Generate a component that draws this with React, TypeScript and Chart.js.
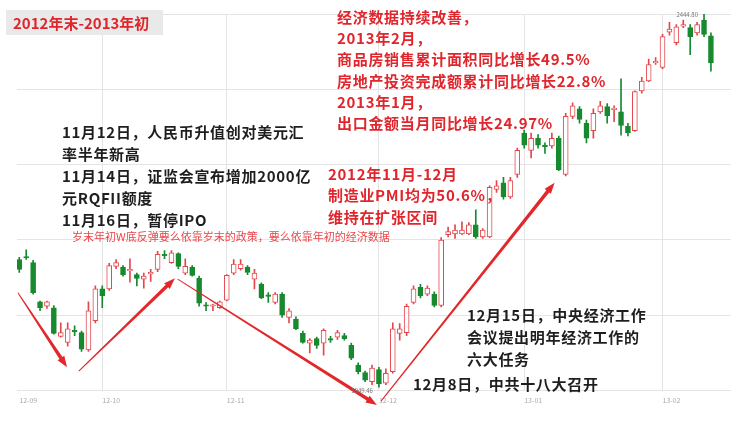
import React, { useEffect, useRef } from "react";
import { Chart, registerables } from "chart.js";

Chart.register(...registerables);

// ---- Data (Shanghai Composite, Sep 2012 – Feb 2013, daily OHLC) ----
const opens = [
  2119, 2122, 2115, 2063, 2057, 2055, 2017, 2009, 2024, 2022,
  1999, 2038, 2080, 2080, 2110, 2109, 2104, 2099, 2093, 2100,
  2106, 2125, 2115, 2127, 2101, 2109, 2094, 2058, 2057, 2055,
  2065, 2101, 2107, 2109, 2093, 2086, 2071, 2062, 2073, 2042,
  2040, 2021, 2008, 2014, 2008, 2014, 2016, 2018, 2005, 1979,
  1969, 1957, 1973, 1955, 1970, 2021, 2022, 2062, 2082, 2073,
  2073, 2058, 2152, 2153, 2153, 2153, 2165, 2149, 2149, 2212,
  2221, 2202, 2232, 2287, 2264, 2280, 2270, 2270, 2280, 2232,
  2309, 2319, 2300, 2290, 2315, 2322, 2318, 2315, 2296, 2290,
  2343, 2356, 2380, 2374, 2421, 2407, 2429, 2427, 2420, 2437, 2416,
];
const highs = [
  2122, 2132, 2118, 2064, 2064, 2058, 2035, 2035, 2031, 2024,
  2063, 2084, 2084, 2114, 2119, 2111, 2120, 2101, 2101, 2106,
  2130, 2131, 2131, 2128, 2120, 2111, 2097, 2062, 2060, 2064,
  2099, 2119, 2119, 2111, 2106, 2088, 2075, 2075, 2075, 2054,
  2043, 2024, 2014, 2016, 2027, 2017, 2025, 2021, 2008, 1982,
  1971, 1979, 1976, 1974, 2035, 2034, 2060, 2084, 2086, 2084,
  2076, 2148, 2162, 2165, 2169, 2168, 2185, 2160, 2217, 2224,
  2228, 2228, 2267, 2291, 2287, 2285, 2274, 2287, 2283, 2313,
  2327, 2322, 2304, 2319, 2329, 2326, 2323, 2359, 2300, 2343,
  2361, 2385, 2387, 2418, 2434, 2431, 2437, 2431, 2434, 2444.8, 2420,
];
const lows = [
  2102, 2119, 2073, 2051, 2054, 2020, 2016, 2004, 2018, 1997,
  1997, 2035, 2055, 2078, 2107, 2097, 2089, 2084, 2081, 2090,
  2103, 2120, 2114, 2107, 2099, 2097, 2057, 2051, 2051, 2054,
  2064, 2099, 2105, 2099, 2080, 2067, 2062, 2060, 2042, 2035,
  2026, 2008, 1995, 2001, 1992, 2009, 2013, 2012, 1986, 1967,
  1957, 1953, 1949.46, 1953, 1968, 2012, 2018, 2060, 2068, 2071,
  2056, 2056, 2149, 2147, 2152, 2152, 2147, 2147, 2148, 2208,
  2199, 2200, 2228, 2267, 2254, 2267, 2260, 2267, 2237, 2230,
  2306, 2300, 2274, 2280, 2313, 2300, 2302, 2284, 2283, 2289,
  2340, 2355, 2378, 2372, 2417, 2404, 2427, 2391, 2417, 2415, 2369,
];
const closes = [
  2106, 2121, 2075, 2055, 2063, 2021, 2022, 2027, 2023, 2000,
  2051, 2080, 2071, 2111, 2115, 2099, 2105, 2094, 2097, 2101,
  2126, 2124, 2128, 2110, 2110, 2098, 2061, 2057, 2058, 2063,
  2098, 2113, 2113, 2102, 2101, 2068, 2070, 2073, 2045, 2051,
  2027, 2009, 2012, 2005, 2025, 2012, 2022, 2014, 1988, 1970,
  1959, 1975, 1954, 1968, 2027, 2027, 2057, 2080, 2071, 2081,
  2058, 2145, 2156, 2158, 2158, 2165, 2149, 2158, 2215, 2217,
  2202, 2224, 2264, 2271, 2280, 2271, 2269, 2280, 2238, 2309,
  2323, 2305, 2280, 2313, 2323, 2310, 2319, 2297, 2287, 2342,
  2356, 2378, 2382, 2415, 2425, 2428, 2430, 2415, 2431, 2418, 2380,
];

// month-start tick positions (candle index) and their labels
const tickIndex = [0, 12, 30, 52, 73, 93];
const tickLabels = ["12-09", "12-10", "12-11", "12-12", "13-01", "13-02"];

// extreme value labels: [candle index, value, text]
const extremeIdx = [99, 52];
const extremeVal = [2444.8, 1949.46];
const extremeText = ["2444.80", "1949.46"];

// trend arrows in data coordinates [index, value]
const arrowFrom = [[-0.2, 2075], [8.6, 1971], [22.9, 2093], [52.3, 1931]];
const arrowTo = [[6.9, 1976], [22.5, 2094], [51.7, 1926], [77.4, 2221]];

// annotation texts
const titleText = "2012年末-2013年初";
const policyNotes = [
  "11月12日，人民币升值创对美元汇",
  "率半年新高",
  "11月14日，证监会宣布增加2000亿",
  "元RQFII额度",
  "11月16日，暂停IPO",
];
const reboundNote = "岁末年初W底反弹要么依靠岁末的政策，要么依靠年初的经济数据";
const dataNotes = [
  "经济数据持续改善，",
  "2013年2月，",
  "商品房销售累计面积同比增长49.5%",
  "房地产投资完成额累计同比增长22.8%",
  "2013年1月，",
  "出口金额当月同比增长24.97%",
];
const pmiNotes = ["2012年11月-12月", "制造业PMI均为50.6%，", "维持在扩张区间"];
const meetingNotes = ["12月15日，中央经济工作", "会议提出明年经济工作的", "六大任务"];
const congressNote = "12月8日，中共十八大召开";

const UP = "#e2474c";
const DOWN = "#17892e";
const RED_TEXT = "#e0262c";
const FONT = "'Noto Sans CJK SC', 'Noto Sans', sans-serif";

function drawArrow(ctx: CanvasRenderingContext2D, x0: number, y0: number, x1: number, y1: number) {
  const dx = x1 - x0, dy = y1 - y0;
  const len = Math.hypot(dx, dy);
  const ux = dx / len, uy = dy / len;
  const nx = -uy, ny = ux;
  const headLen = 11, headW = 8, w0 = 1, w1 = 3.6;
  const bx = x1 - ux * headLen, by = y1 - uy * headLen;
  ctx.beginPath();
  ctx.moveTo(x0 + nx * w0 / 2, y0 + ny * w0 / 2);
  ctx.lineTo(bx + nx * w1 / 2, by + ny * w1 / 2);
  ctx.lineTo(bx + nx * headW / 2, by + ny * headW / 2);
  ctx.lineTo(x1, y1);
  ctx.lineTo(bx - nx * headW / 2, by - ny * headW / 2);
  ctx.lineTo(bx - nx * w1 / 2, by - ny * w1 / 2);
  ctx.lineTo(x0 - nx * w0 / 2, y0 - ny * w0 / 2);
  ctx.closePath();
  ctx.fill();
}

const notesPlugin = {
  id: "notes",
  afterDraw(chart: any) {
    const { ctx } = chart;
    const xs = chart.scales.x, ys = chart.scales.y;
    ctx.save();

    // arrows
    ctx.fillStyle = "#e3282b";
    arrowFrom.forEach((f, i) => {
      const t = arrowTo[i];
      drawArrow(ctx, xs.getPixelForValue(f[0]), ys.getPixelForValue(f[1]), xs.getPixelForValue(t[0]), ys.getPixelForValue(t[1]));
    });

    // extreme labels
    ctx.font = `6px ${FONT}`;
    ctx.fillStyle = "#777";
    ctx.textAlign = "right";
    ctx.textBaseline = "middle";
    extremeIdx.forEach((idx, i) => {
      const px = xs.getPixelForValue(idx) - 6;
      const py = ys.getPixelForValue(extremeVal[i]) + (i === 0 ? 1 : 3);
      ctx.fillText(extremeText[i], px, py);
    });

    ctx.textAlign = "left";
    // title box
    ctx.fillStyle = "#e9e9e9";
    ctx.fillRect(6, 10, 157, 25);
    ctx.fillStyle = RED_TEXT;
    ctx.font = `bold 15px ${FONT}`;
    ctx.fillText(titleText, 13, 23);

    ctx.letterSpacing = "0.7px";
    // policy notes (black)
    ctx.fillStyle = "#1e1e1e";
    ctx.font = `bold 15px ${FONT}`;
    policyNotes.forEach((t, i) => ctx.fillText(t, 62, 132.5 + i * 22));

    // data notes (red)
    ctx.fillStyle = RED_TEXT;
    dataNotes.forEach((t, i) => ctx.fillText(t, 337, 17 + i * 21.3));

    // PMI notes
    pmiNotes.forEach((t, i) => ctx.fillText(t, 328, 174 + i * 21.5));

    // meeting notes (black)
    ctx.fillStyle = "#1e1e1e";
    meetingNotes.forEach((t, i) => ctx.fillText(t, 467, 315 + i * 22.3));
    ctx.fillText(congressNote, 413, 384);

    // rebound note (small red)
    ctx.letterSpacing = "0px";
    ctx.fillStyle = "#e8474a";
    ctx.font = `11px ${FONT}`;
    ctx.fillText(reboundNote, 72, 236.5);

    ctx.restore();
  },
};

export default function App() {
  const ref = useRef<HTMLCanvasElement>(null);

  useEffect(() => {
    document.body.style.margin = "0";
    const canvas = ref.current!;
    const up = opens.map((o, i) => closes[i] >= o);
    const wicks = opens.map((_, i) => ({ x: i, y: [lows[i], highs[i]] }));
    const bodies = opens.map((o, i) => ({ x: i, y: [Math.min(o, closes[i]), Math.max(o, closes[i])] }));

    const chart = new Chart(canvas, {
      type: "bar",
      data: {
        datasets: [
          {
            data: bodies as any,
            order: 0,
            grouped: false,
            barThickness: 5,
            minBarLength: 1.5,
            borderSkipped: false,
            borderWidth: 1,
            backgroundColor: up.map((u) => (u ? "#ffffff" : DOWN)),
            borderColor: up.map((u) => (u ? UP : DOWN)),
          } as any,
          {
            data: wicks as any,
            order: 1,
            grouped: false,
            barThickness: 1,
            borderWidth: 0,
            backgroundColor: up.map((u) => (u ? UP : DOWN)),
          } as any,
        ],
      },
      options: {
        animation: false,
        responsive: false,
        devicePixelRatio: 1,
        layout: { padding: { left: 17, top: 14, right: 0, bottom: 10 } },
        plugins: { legend: { display: false }, tooltip: { enabled: false } },
        scales: {
          x: {
            type: "linear",
            min: -0.33,
            max: 102.9,
            offset: false,
            border: { display: false },
            grid: {
              offset: false,
              drawTicks: false,
              color: (c: any) => (c.tick && c.tick.value === 0 ? "rgba(0,0,0,0)" : "#e4e4e4"),
            },
            afterBuildTicks: (s: any) => {
              s.ticks = tickIndex.map((v) => ({ value: v }));
            },
            ticks: {
              autoSkip: false,
              maxRotation: 0,
              align: "start",
              padding: 6,
              color: "#aaaaaa",
              font: { size: 7, family: FONT },
              callback: (_v: any, i: number) => tickLabels[i] ?? "",
            },
          } as any,
          y: {
            min: 1945,
            max: 2445,
            border: { display: false },
            ticks: { display: false, stepSize: 100 },
            grid: { drawTicks: false, color: "#e4e4e4" },
          },
        },
      },
      plugins: [notesPlugin],
    });
    return () => chart.destroy();
  }, []);

  return (
    <div style={{ width: 731, height: 421 }}>
      <canvas ref={ref} width={731} height={421} style={{ display: "block" }} />
    </div>
  );
}
